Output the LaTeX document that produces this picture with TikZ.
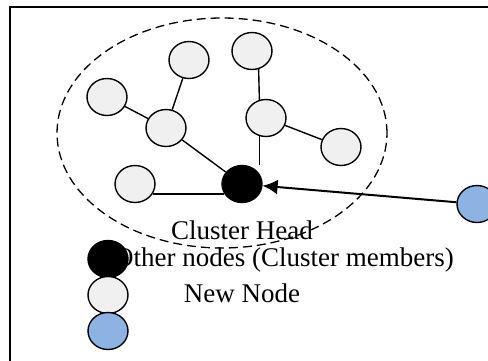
\documentclass[tikz,border=0pt]{standalone}
\usepackage{fontspec}
\setmainfont{Liberation Serif}
\usetikzlibrary{shapes.geometric, arrows.meta}
\definecolor{membergray}{RGB}{240,240,240}
\definecolor{newblue}{RGB}{141,179,226}

\begin{document}
\begin{tikzpicture}[x=0.5pt, y=-0.5pt,
    member/.style={draw, ellipse, line width=0.7pt, fill=membergray, minimum width=20pt, minimum height=18.5pt, inner sep=0pt},
    clusterhead/.style={member, fill=black},
    newnode/.style={member, fill=newblue},
    link/.style={line width=0.7pt},
    lbltext/.style={font=\fontsize{13.5}{16}\selectfont, inner sep=0pt}]
    \useasboundingbox (0,0) rectangle (488,360);
    \clip (0,0) rectangle (488,360);

    % Frame
    \draw[line width=0.6pt] (10,7) rectangle (500,370);

    % Legend texts
    \node[lbltext] (headtxt) at (242,230) {Cluster Head};
    \node[lbltext] (membertxt) at (284,260) {Other nodes (Cluster members)};
    \node[lbltext] (newtxt) at (242,293) {New Node};

    % Cluster boundary
    \draw[line width=0.65pt, dash pattern=on 4.5pt off 2.5pt] (222,133) ellipse [x radius=82.5pt, y radius=57.5pt];

    % Cluster members
    \node[member] (m1) at (189,60) {};
    \node[member] (m2) at (252,51) {};
    \node[member] (m3) at (107,97) {};
    \node[member] (m4) at (166,128) {};
    \node[member] (m5) at (266,118) {};
    \node[member] (m6) at (341,147) {};
    \node[member] (m7) at (135,184) {};
    \node[clusterhead] (ch) at (242,184) {};

    % Links
    \draw[link] (m1) -- (m4);
    \draw[link] (m3) -- (m4);
    \draw[link] (m4) -- (ch);
    \draw[link] (m7.-29) -- (ch.209);
    \draw[link] (m2.-70) -- (m5.110);
    \draw[link] (m5.-110) -- (m5.-110 |- ch.north);
    \draw[link] (m5) -- (m6);

    % New node joining
    \node[newnode] (nn) at (477,204) {};
    \draw[line width=1pt, -{Latex[length=7.5pt, width=7.5pt]}] (nn) -- (ch);

    % Legend symbols
    \node[clusterhead] (keyhead) at (108,259) {};
    \node[member] (keymember) at (108,295) {};
    \node[newnode] (keynew) at (108,331) {};
\end{tikzpicture}
\end{document}
